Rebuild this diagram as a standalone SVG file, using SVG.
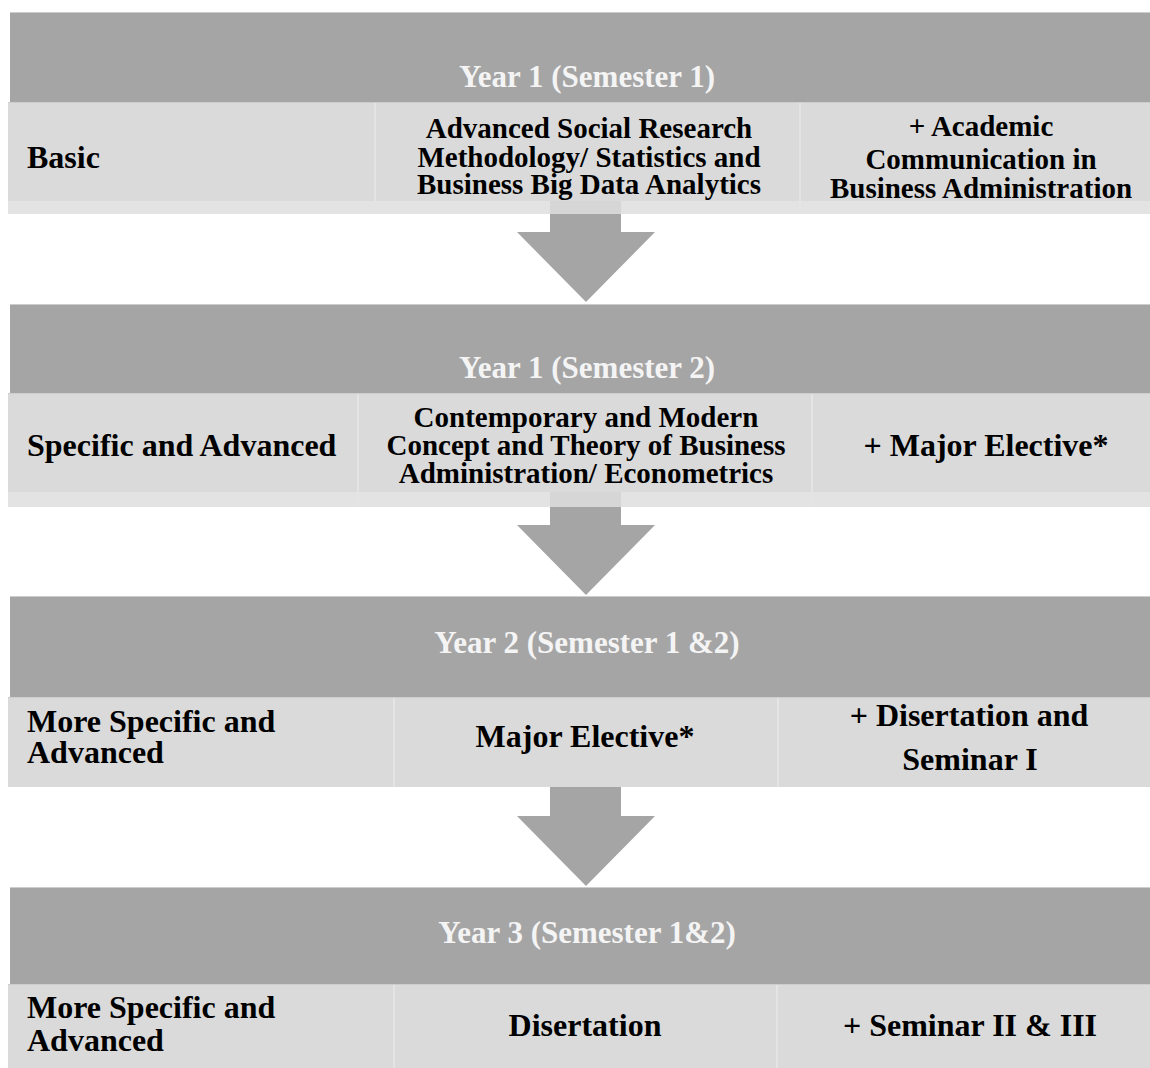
<svg xmlns="http://www.w3.org/2000/svg" width="1150" height="1068" viewBox="0 0 1150 1068">
<style>
.hdr{fill:#a5a5a5}
.row{fill:#dadada}
.strip{fill:#e3e3e3}
.div{stroke:#e4e4e4;stroke-width:2}
.edge{stroke:#cdcdcd;stroke-width:1}
.arrow{fill:#a5a5a5}
text{font-family:"Liberation Serif","Times New Roman",serif;font-weight:bold}
.ht{fill:#f4f4f4;font-size:31px;text-anchor:middle}
.bt{fill:#000;font-size:32px}
.mt{fill:#000;font-size:29px;text-anchor:middle}
.ct{fill:#000;font-size:32px;text-anchor:middle}
</style>
<rect width="1150" height="1068" fill="#fff"/>
<g id="connectors">
<rect x="550" y="201" width="71" height="13" fill="#d6d6d6"/>
<polygon class="arrow" points="550,214 621,214 621,232 655,232 586,302 517,232 550,232"/>
<rect x="550" y="492" width="71" height="15" fill="#d6d6d6"/>
<polygon class="arrow" points="550,507 621,507 621,525 655,525 586,595 517,525 550,525"/>
<polygon class="arrow" points="550,787 621,787 621,816 655,816 586,886 517,816 550,816"/>
</g>
<g id="year1-sem1">
<rect class="hdr" x="10" y="12" width="1140" height="90"/>
<line class="edge" x1="10" y1="12.5" x2="1150" y2="12.5"/>
<rect class="row" x="8" y="102" width="1142" height="99"/>
<rect class="strip" x="8" y="201" width="542" height="13"/>
<rect class="strip" x="621" y="201" width="529" height="13"/>
<line class="edge" x1="8" y1="102.5" x2="1150" y2="102.5"/>
<line class="div" x1="375" y1="103" x2="375" y2="214"/>
<line class="div" x1="800" y1="103" x2="800" y2="214"/>
<text class="ht" x="587" y="87">Year 1 (Semester 1)</text>
<text class="bt" x="27" y="168">Basic</text>
<text class="mt" x="589" y="138">Advanced Social Research</text>
<text class="mt" x="589" y="167">Methodology/ Statistics and</text>
<text class="mt" x="589" y="194">Business Big Data Analytics</text>
<text class="mt" x="981" y="136">+ Academic</text>
<text class="mt" x="981" y="169">Communication in</text>
<text class="mt" x="981" y="198">Business Administration</text>
</g>
<g id="year1-sem2">
<rect class="hdr" x="10" y="304" width="1140" height="89"/>
<line class="edge" x1="10" y1="304.5" x2="1150" y2="304.5"/>
<rect class="row" x="8" y="393" width="1142" height="99"/>
<rect class="strip" x="8" y="492" width="542" height="15"/>
<rect class="strip" x="621" y="492" width="529" height="15"/>
<line class="edge" x1="8" y1="393.5" x2="1150" y2="393.5"/>
<line class="div" x1="358" y1="394" x2="358" y2="507"/>
<line class="div" x1="812" y1="394" x2="812" y2="507"/>
<text class="ht" x="587" y="378">Year 1 (Semester 2)</text>
<text class="bt" x="27" y="456">Specific and Advanced</text>
<text class="mt" x="586" y="427">Contemporary and Modern</text>
<text class="mt" x="586" y="455">Concept and Theory of Business</text>
<text class="mt" x="586" y="483">Administration/ Econometrics</text>
<text class="ct" x="986" y="456">+ Major Elective*</text>
</g>
<g id="year2">
<rect class="hdr" x="10" y="596" width="1140" height="101"/>
<line class="edge" x1="10" y1="596.5" x2="1150" y2="596.5"/>
<rect class="row" x="8" y="697" width="1142" height="90"/>
<line class="edge" x1="8" y1="697.5" x2="1150" y2="697.5"/>
<line class="div" x1="394" y1="698" x2="394" y2="787"/>
<line class="div" x1="778" y1="698" x2="778" y2="787"/>
<text class="ht" x="587" y="653">Year 2 (Semester 1 &amp;2)</text>
<text class="bt" x="27" y="732">More Specific and</text>
<text class="bt" x="27" y="763">Advanced</text>
<text class="ct" x="585" y="747">Major Elective*</text>
<text class="ct" x="969" y="726">+ Disertation and</text>
<text class="ct" x="970" y="770">Seminar I</text>
</g>
<g id="year3">
<rect class="hdr" x="10" y="887" width="1140" height="97"/>
<line class="edge" x1="10" y1="887.5" x2="1150" y2="887.5"/>
<rect class="row" x="8" y="984" width="1142" height="84"/>
<line class="edge" x1="8" y1="984.5" x2="1150" y2="984.5"/>
<line class="div" x1="394" y1="985" x2="394" y2="1068"/>
<line class="div" x1="777" y1="985" x2="777" y2="1068"/>
<text class="ht" x="587" y="943">Year 3 (Semester 1&amp;2)</text>
<text class="bt" x="27" y="1018">More Specific and</text>
<text class="bt" x="27" y="1051">Advanced</text>
<text class="ct" x="585" y="1036">Disertation</text>
<text class="ct" x="970" y="1036">+ Seminar II &amp; III</text>
</g>
</svg>
